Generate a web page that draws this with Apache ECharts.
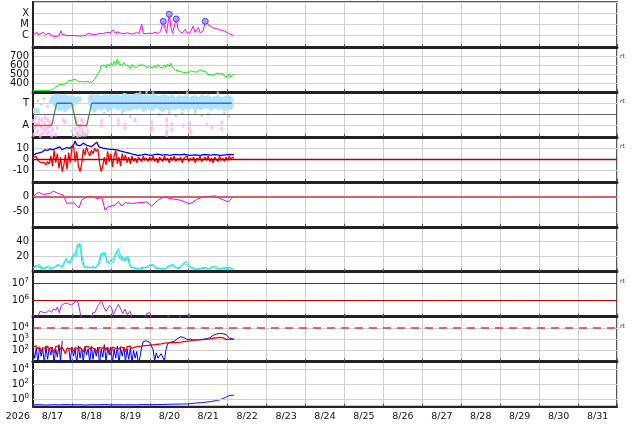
<!DOCTYPE html>
<html><head><meta charset="utf-8">
<script src="https://cdn.jsdelivr.net/npm/echarts@6/dist/echarts.min.js"></script>
<style>html,body{margin:0;padding:0;background:#fff}#c{width:634px;height:424px}</style>
</head><body><div id="c"></div><script>
// ---------- labels ----------
const yearLabel = '2026';
const dayTickLabels = ['8/17','8/18','8/19','8/20','8/21','8/22','8/23','8/24','8/25','8/26','8/27','8/28','8/29','8/30','8/31'];
const xrayClassLabels = ['C','M','X'];
const xrayClassExp = [-6,-5,-4];
const rtPanels = [1,2,3,6,7];

// ---------- data (x = hours since 8/17 00:00) ----------
const xrayFlux = [[0,1.2e-6],[1.2,1.1e-6],[2.3,2.0e-6],[3.1,1.2e-6],[4.3,1.1e-6],[6.4,2.0e-6],[7.4,1.3e-6],[8.4,1.1e-6],[9.2,1.5e-6],[10.5,1.6e-6],[11.5,9.5e-7],[12.9,9e-7],[14.6,8.2e-7],[16.0,1.0e-6],[17.3,2.8e-6],[17.9,1.4e-6],[18.7,1.2e-6],[21,1.0e-6],[22.8,1.05e-6],[25.9,1.0e-6],[29.0,9.5e-7],[32,1.0e-6],[34.1,1.65e-6],[35.1,1.3e-6],[37.2,1.2e-6],[39.5,1.4e-6],[41.3,1.65e-6],[43.2,1.5e-6],[45.4,2.0e-6],[46.2,1.6e-6],[47.5,1.8e-6],[49.5,3.2e-6],[50.6,1.7e-6],[51.6,1.4e-6],[52.4,2.2e-6],[53.6,2.8e-6],[54.6,1.6e-6],[56.1,1.5e-6],[58,1.8e-6],[59.8,1.5e-6],[61.7,1.4e-6],[63.9,2.0e-6],[65.3,1.5e-6],[67.0,1.04e-5],[68.0,1.6e-6],[69.7,1.5e-6],[71.5,1.7e-6],[73.4,1.5e-6],[75.2,2.0e-6],[77.1,1.6e-6],[78.6,2.5e-6],[80.3,1.9e-5],[81.4,4e-6],[82.4,1.8e-6],[84.0,8.1e-5],[85.1,5e-6],[86.0,1.8e-6],[87.2,2.5e-6],[88.3,3.1e-5],[89.4,4e-6],[90.6,2.3e-6],[91.9,1.7e-6],[93.7,3.7e-6],[95,1.7e-6],[96.8,1.8e-6],[98.8,7.4e-6],[99.9,2e-6],[101.9,5.5e-6],[103,1.8e-6],[104.8,2.5e-6],[106.2,1.9e-5],[107.9,1.0e-5],[109.1,7.4e-6],[111,5e-6],[112.2,3.7e-6],[113.4,4.2e-6],[115.3,3.2e-6],[116.5,2.4e-6],[117.3,3.0e-6],[118.4,2.0e-6],[120.4,1.65e-6],[122.1,1.3e-6],[123.5,1.1e-6]];
const flareTimes = [80.3, 84.0, 88.3, 106.2];
const flareFlux = [1.9e-5, 8.1e-5, 3.1e-5, 1.9e-5];

// hourly solar wind speed, from hour 0
const windSpeed = [312,315,318,314,316,313,317,315,314,318,
316,320,325,335,355,370,378,372,385,380,
390,400,425,415,430,420,440,425,418,430,
415,422,412,425,418,398,405,425,440,470,
500,530,590,575,600,570,610,585,620,590,
640,600,665,610,630,595,625,600,615,590,
560,605,580,600,570,595,575,600,585,595,
570,590,580,600,565,595,570,605,575,590,
565,600,575,610,580,620,570,550,540,555,
530,545,520,535,515,530,510,535,515,525,
505,520,510,545,560,530,510,520,495,510,
490,505,485,510,490,500,480,505,475,495,
470,500,465,490,500];

// IMF sector: +1 toward (T), -1 away (A)
const sectorTimes = [0, 11.5, 14.6, 23.9, 26.9, 33.1, 36.2, 122.5];
const sectorValues = [-1, -1, 1, 1, -1, -1, 1, 1];
// [hour, low, high] of the toward-direction dot cloud
const towardBand = [[0,0.1,0.5],[2,0.15,0.6],[4,0.1,0.45],[6,null,null],[8,null,null],[10,0.9,1.3],[12,1.0,1.7],[14,0.5,1.8],[16,0.3,1.8],[18,0.4,1.7],[20,0.2,1.8],[22,0.5,1.6],[24,0.6,1.7],[26,0.8,1.5],[28,1.1,1.6],[30,1.2,1.5],[32,null,null],[34,1.0,1.6],[36,0.4,1.8],[38,0.2,1.7],[40,0.5,1.8],[42,0.3,1.6],[44,0.6,1.8],[46,0.2,1.7],[48,0.4,1.8],[50,0.6,1.7],[52,0.3,1.8],[54,0.5,1.6],[56,0.2,1.9],[58,0.4,1.8],[60,0.3,1.7],[62,0.5,1.8],[64,0.4,1.9],[66,0.6,1.8],[68,0.2,1.7],[70,0.4,1.8],[72,0.5,1.6],[74,0.3,1.8],[76,0.6,1.7],[78,0.4,1.6],[80,0.2,1.8],[82,0.5,1.7],[84,0.3,1.6],[86,0.5,1.8],[88,0.4,1.5],[90,0.6,1.7],[92,0.3,1.6],[94,0.5,1.7],[96,0.4,1.5],[98,0.6,1.6],[100,0.3,1.7],[102,0.5,1.5],[104,0.4,1.8],[106,0.6,1.6],[108,0.5,1.7],[110,0.3,1.5],[112,0.6,1.6],[114,0.4,1.7],[116,0.5,1.5],[118,0.3,1.6],[120,0.5,1.7],[122,0.4,1.6],[123.5,0.6,1.4]];
const awayDots = [[0,-0.6],[0.5,-1.8],[1,-1.2],[1.5,-0.3],[2,-0.9],[2.5,-1.6],[3,-1.5],[3.5,-0.8],[4,-0.4],[4.5,-1.9],[5,-1.1],[5.5,-0.5],[6,-1.7],[6.5,-1.3],[7,-0.8],[7.5,-0.3],[8,-1.3],[8.5,-1.7],[9,-0.5],[9.5,-1.1],[10,-1.6],[10.5,-0.7],[11,-1.0],[11.5,-1.9],[12,-1.4],[13,-0.7],[14,-1.8],[15,-1.2],[18.7,-0.5],[19.7,-0.65],[26,-1.3],[26.5,-0.4],[27,-0.7],[27.5,-1.9],[28,-1.6],[28.5,-1.1],[29,-1.0],[29.5,-0.5],[30,-1.4],[30.5,-1.8],[31,-0.6],[32,-1.8],[33,-1.1],[34,-1.5],[42.3,-0.6],[42.3,-1.0],[52.6,-0.5],[52.6,-0.9],[56.7,-0.9],[56.7,-1.2],[62.9,-0.5],[73.2,-0.7],[73.2,-1.1],[73.2,-1.4],[82.4,-0.5],[82.4,-1.0],[82.4,-1.5],[82.4,-1.8],[85.5,-0.9],[85.5,-1.4],[92.7,-1.0],[96.8,-0.8],[96.8,-1.3],[97.5,-1.6],[107.1,-0.9],[110.2,-1.2],[116.3,-0.7],[116.3,-1.3]];
const grayDots = [[3,1.2],[5,0.9],[7,1.4],[9,0.7],[24,-1.5],[25,-1.9],[27,-1.7],[29,-1.9],[31,-1.6],[33,-1.8],[36,1.5],[38,0.3],[44,0.1],[47,-0.1],[55,0.2],[60,-0.2],[66,1.9],[70,1.95],[74,1.9],[78,0.0],[84,0.15],[88,-0.1],[92,0.1],[95,1.9],[100,0.2],[104,-0.1],[108,0.0],[114,1.9],[118,0.1],[121,-0.2]];

// IMF Bt (pairs) and Bz (hourly)
const imfBt = [[0,3.5],[1.8,5.0],[3.1,5.5],[4.3,7.0],[5.5,6.5],[7.4,8.4],[9.2,8.0],[10.5,9.3],[12.3,8.5],[14.6,10],[15.4,11.5],[16.6,11.0],[17.9,8.5],[19.1,9.5],[20.8,10.5],[22.8,9.8],[24.0,11.0],[25.3,13.5],[25.9,16.4],[26.9,12.9],[27.7,13.5],[29.0,12.0],[30.2,13.0],[31.0,14.4],[32.1,13.0],[33.1,12.5],[34.5,12.0],[36.2,11.4],[37.6,13.0],[39.3,15.3],[40.7,11.0],[41.9,10.8],[43.3,10.0],[45.0,9.5],[46.4,9.0],[48.7,8.8],[51.6,8.4],[53.6,7.5],[56.7,6.4],[58.6,5.8],[60.8,4.9],[62.9,4.2],[64.9,3.4],[67.2,4.0],[69.0,4.6],[70.9,4.0],[73.2,3.6],[75.2,4.4],[77.2,4.6],[79.5,3.8],[82.0,4.2],[84.5,3.6],[87.5,4.4],[90.6,3.9],[93.7,4.5],[96.8,3.5],[99.9,4.0],[103.0,3.6],[106.0,4.3],[109.1,3.8],[112.2,4.2],[115.3,3.6],[118.4,4.0],[121.5,4.4],[123.9,4.2]];
const imfBz = [2,1,2.5,-1,-2,-3,-4,-3,-5,-2,
-4,3,-6,8,-3,5,-8,2,-11,-5,
4,-9,6,-3,10,12,-2,7,-6,-11,
-4,9,4,11,6,3,8,5,10,7,
9,-3,-11,-6,2,-5,7,-2,5,-7,
3,8,-4,2,-6,5,-1,4,-3,2,
-4,3,-2,1,-3,2,0,-2,3,-1,
1,-2,2,-1,3,-2,1,-3,2,0,
-2,3,-1,1,-3,2,-1,3,-2,1,
-1,2,-3,1,0,3,-2,1,-1,2,
-3,1,-1,3,-2,0,2,-1,3,-2,
1,-3,2,0,-2,3,-1,1,-2,2,
-1,3,0,2,1];

// Dst index
const dstIndex = [[0,0],[3.3,15],[6.3,8],[10.5,11],[12.5,19],[15.6,11],[18.7,6],[20.8,-22],[24.8,-20],[28.4,-37],[30,-11],[33.1,0],[36.2,2],[39.3,-6],[42.5,-3],[44.4,-44],[46.4,-33],[50.6,-28],[52.6,-16],[54.7,-31],[56.7,-20],[61.8,-22],[70.1,-17],[73.2,-31],[77.2,-11],[80.3,0],[84.5,-6],[90.6,-11],[96.8,-24],[100.9,-9],[105,0],[112.2,3],[115.3,-6],[120.4,-17],[123.5,0]];

// density, two traces
const densityA = [[0,4],[1.2,6],[2.5,9],[3.7,8],[4.9,4],[6.8,5],[8.6,7],[9.9,4],[11.7,5],[13.6,6],[15.4,9],[16.6,8],[17.9,6],[19.1,10],[20.3,18],[21.6,12],[22.8,14],[24.0,16],[25.3,24],[26.5,20],[27.4,34],[28.4,38],[29.3,30],[30.2,12],[31.4,6],[33.3,5],[35.1,6],[37.0,5],[38.8,6],[40.7,10],[41.9,20],[43.2,26],[44.4,22],[45.6,14],[46.9,10],[48.1,16],[49.3,12],[50.6,18],[51.8,28],[52.7,30],[53.6,17],[54.9,20],[56.1,14],[57.3,19],[58.6,17],[59.8,6],[61.7,5],[63.5,4],[65.3,5],[67.2,4],[69.0,6],[70.9,5],[72.1,9],[74.0,8],[75.8,4],[77.7,5],[79.5,3],[81.4,4],[83.2,6],[84.5,9],[86.3,8],[88.2,5],[90.0,4],[91.9,7],[93.1,11],[94.3,12],[95.6,8],[97.4,5],[99.3,3],[101.1,4],[103.0,3],[104.8,6],[106.7,3],[108.5,4],[110.4,7],[112.2,5],[114.1,3],[115.9,5],[117.8,4],[119.6,6],[121.5,4],[123.3,3]];
const densityB = [[0,5],[1.2,8],[2.5,7],[3.7,10],[4.9,6],[6.8,4],[8.6,6],[9.9,8],[11.7,4],[13.6,7],[15.4,10],[16.6,7],[17.9,8],[19.1,12],[20.3,16],[21.6,14],[22.8,11],[24.0,20],[25.3,22],[26.5,28],[27.4,36],[28.4,33],[29.3,37],[30.2,20],[31.4,8],[33.3,7],[35.1,5],[37.0,7],[38.8,5],[40.7,14],[41.9,24],[43.2,22],[44.4,26],[45.6,12],[46.9,14],[48.1,12],[49.3,17],[50.6,22],[51.8,24],[52.7,31],[53.6,24],[54.9,16],[56.1,19],[57.3,15],[58.6,20],[59.8,9],[61.7,6],[63.5,5],[65.3,3],[67.2,6],[69.0,5],[70.9,8],[72.1,6],[74.0,10],[75.8,6],[77.7,4],[79.5,5],[81.4,3],[83.2,8],[84.5,7],[86.3,10],[88.2,6],[90.0,5],[91.9,10],[93.1,9],[94.3,14],[95.6,11],[97.4,6],[99.3,5],[101.1,3],[103.0,5],[104.8,4],[106.7,6],[108.5,3],[110.4,5],[112.2,8],[114.1,4],[115.9,3],[117.8,6],[119.6,4],[121.5,6],[123.3,4]];

// electron flux (values below 1e5 fall off the panel)
const electronFlux = [[0,4e4],[1.2,4e4],[3.3,1.2e5],[4.3,2.1e5],[6.4,1.8e5],[8.4,1.8e5],[10.1,2.4e5],[11.5,1.8e5],[12.5,2.9e5],[14.2,2.4e5],[15.0,3.8e5],[16.2,1.7e5],[17.5,4.6e5],[19.7,6.6e5],[21.8,5.8e5],[23.9,5.0e5],[25.3,6.6e5],[26.9,9.5e5],[27.9,6.6e5],[29.4,1.2e5],[30.6,4e4],[35.1,4e4],[36.8,1.7e5],[38.2,1.8e5],[39.7,4e5],[41.3,6.6e5],[42.3,9.5e5],[43.4,4.2e5],[45.0,2.1e5],[47.1,4.6e5],[48.5,3.3e5],[49.5,1.3e5],[51.2,2.9e5],[52.6,5.5e5],[54.1,2.9e5],[55.3,1.5e5],[56.7,2.9e5],[58.1,1.3e5],[59.8,2.1e5],[60.8,1.1e5],[61.8,4e4],[68.0,4e4],[70.1,1.6e5],[72.1,1.7e5],[73.8,4e4],[82.4,6e4],[83.4,1.2e5],[84.5,6e4],[89.6,6e4],[90.6,1.1e5],[91.7,6e4],[95.1,6e4],[96.2,1.5e5],[97.2,6e4],[124,6e4]];

// proton flux, hourly from hour 0
const protonRed = [200,160,250,130,200,80,180,220,140,250,
100,200,160,60,220,150,250,120,200,180,
50,160,230,140,200,90,180,240,130,200,
160,70,210,150,230,120,190,250,140,200,
60,180,220,150,240,110,200,170,40,190,
230,150,210,130,200,250,160,80,210,180,
240,150,220,190,250,230,280,240,300,260,
300,280,320,300,340,320,360,350,400,380,
420,440,500,470,520,480,540,500,560,520,
580,550,620,600,680,640,720,700,820,860,
900,880,940,900,960,920,1000,950,1100,1050,
1250,1200,1400,1300,1500,1400,1600,1350,1100,950,
880,950,1000,950,1000];
const protonBlue = [130,20,160,8,200,30,130,6,250,16,
160,40,200,8,130,25,320,10,700,null,
null,null,160,12,200,30,130,6,250,20,
160,10,200,40,130,8,250,16,160,30,
200,6,130,25,320,10,160,40,200,8,
130,20,250,6,160,30,200,10,130,16,
160,8,100,20,80,5,30,200,630,520,
700,560,500,450,120,12,60,20,25,50,
60,12,120,400,500,530,560,650,900,1100,
1400,1600,1500,1400,1200,900,950,1000,850,750,
800,900,1000,850,800,1000,1250,1100,950,1300,
1700,2200,2500,2800,3000,3200,3300,3100,2900,2500,
1800,1300,1100,1050,1000];

// bottom panel flux
const lowFlux = [[0,0.17],[4,0.18],[8,0.16],[12,0.18],[16,0.17],[20,0.19],[24,0.17],[28,0.18],[32,0.16],[36,0.18],[40,0.17],[44,0.19],[48,0.17],[52,0.18],[56,0.17],[60,0.18],[64,0.17],[68,0.19],[72,0.18],[76,0.18],[80,0.19],[84,0.2],[88,0.21],[92,0.22],[95,0.22],[98,0.26],[101,0.3],[104,0.33],[107,0.39],[110,0.48],[113,0.62],[115.3,0.81],[117,1.2],[118.5,1.6],[119.4,2.0],[120.5,2.6],[121.5,3.2],[123,3.3],[124,3.2]];

// ---------- build chart ----------
const FONT = 'DejaVu Sans';
const GRID_COLOR = '#d0d0d0';
const NPANEL = 9, TOP0 = 2, PANEL_H = 44.95;
const hourly = arr => arr.map((v, i) => [i, v == null ? '-' : v]);

const grids = [], xAxes = [], yAxes = [], series = [];
for (let i = 0; i < NPANEL; i++) {
  const last = i === NPANEL - 1;
  grids.push({left: 33, right: 17, top: TOP0 + PANEL_H * i, height: PANEL_H, show: true,
    borderColor: '#222', borderWidth: 1.5, containLabel: false, outerBoundsMode: 'none'});
  const xa = {gridIndex: i, type: 'value', min: 0, max: 360, interval: 24,
    axisLine: {show: true, onZero: false, lineStyle: {color: '#222', width: last ? 2 : 3}},
    axisTick: {show: true, inside: true, length: 3, lineStyle: {color: '#555', width: 1}},
    splitLine: {show: true, lineStyle: {color: GRID_COLOR, width: 1}},
    axisLabel: {show: false}};
  if (last) {
    xa.axisLabel = {show: true, fontFamily: FONT, fontSize: 9.5, color: '#111', margin: 5,
      align: 'center', padding: [0, 0, 0, 39],
      formatter: v => { const k = Math.round(v / 24); return k < dayTickLabels.length ? dayTickLabels[k] : ''; }};
    xa.name = yearLabel; xa.nameLocation = 'start'; xa.nameGap = 3;
    xa.nameTextStyle = {fontFamily: FONT, fontSize: 9.5, color: '#111', align: 'right', verticalAlign: 'top', padding: [5, 0, 0, 0]};
  }
  xAxes.push(xa);
}

const richSup = {b: {fontFamily: FONT, fontSize: 10, color: '#111'}, e: {fontFamily: FONT, fontSize: 7, color: '#111', padding: [0, 0, 6, 0]}};
function expOf(v) { const e = Math.log10(v); return Math.abs(e - Math.round(e)) < 1e-6 ? Math.round(e) : null; }
function powFmt(shown) { return v => { const e = expOf(v); return (e !== null && shown.includes(e)) ? '{b|10}{e|' + e + '}' : ''; }; }
function yAxis(i, o) {
  return Object.assign({gridIndex: i,
    axisLine: {show: true, onZero: false, lineStyle: {color: '#222', width: 2}},
    axisTick: {show: false},
    splitLine: {show: o.split !== false, lineStyle: {color: GRID_COLOR, width: 1}},
    axisLabel: Object.assign({fontFamily: FONT, fontSize: 10, color: '#111', margin: 4}, o.label || {})},
    o.axis);
}
yAxes.push(yAxis(0, {axis: {type: 'log', min: 1e-7, max: 1e-3, logBase: 10, splitNumber: 4},
  label: {formatter: v => { const e = expOf(v); const k = xrayClassExp.indexOf(e); return k >= 0 ? xrayClassLabels[k] : ''; }}}));
yAxes.push(yAxis(1, {axis: {type: 'value', min: 300, max: 800, interval: 100},
  label: {formatter: v => (v > 300 && v < 800) ? String(v) : ''}}));
yAxes.push(yAxis(2, {axis: {type: 'value', min: -2, max: 2, interval: 1},
  label: {formatter: v => v === 1 ? 'T' : (v === -1 ? 'A' : '')}}));
yAxes.push(yAxis(3, {axis: {type: 'value', min: -20, max: 20, interval: 10},
  label: {formatter: v => (v > -20 && v < 20) ? String(v) : ''}}));
yAxes.push(yAxis(4, {axis: {type: 'value', min: -100, max: 50, interval: 50},
  label: {formatter: v => (v === 0 || v === -50) ? String(v) : ''}}));
yAxes.push(yAxis(5, {axis: {type: 'value', min: 0, max: 60, interval: 20},
  label: {formatter: v => (v === 20 || v === 40) ? String(v) : ''}}));
yAxes.push(yAxis(6, {split: false, axis: {type: 'log', min: 1e5, max: 5e7, logBase: 10},
  label: {formatter: powFmt([6, 7]), rich: richSup}}));
yAxes.push(yAxis(7, {axis: {type: 'log', min: 1e1, max: 1e5, logBase: 10, splitNumber: 4},
  label: {formatter: powFmt([2, 3, 4]), rich: richSup}}));
yAxes.push(yAxis(8, {split: false, axis: {type: 'log', min: 1e-1, max: 1e5, logBase: 10, splitNumber: 6},
  label: {formatter: powFmt([0, 2, 4]), rich: richSup}}));

function line(i, data, color, width, extra) {
  return Object.assign({type: 'line', xAxisIndex: i, yAxisIndex: i, data, symbol: 'none', showSymbol: false,
    lineStyle: {color, width}, itemStyle: {color}, animation: false, connectNulls: false, clip: true, z: 3}, extra || {});
}
function hLines(values, color, width, type) {
  return {silent: true, symbol: 'none', animation: false, label: {show: false},
    lineStyle: {color, width, type: type || 'solid'}, data: values.map(v => ({yAxis: v}))};
}

// panel 1: X-ray
series.push(line(0, xrayFlux, '#ff00ff', 1));
series.push({type: 'scatter', xAxisIndex: 0, yAxisIndex: 0, data: flareTimes.map((t, k) => [t, flareFlux[k]]),
  symbol: 'circle', symbolSize: 6, itemStyle: {color: '#9a9aff', borderColor: '#2020ff', borderWidth: 1}, animation: false, z: 5});
// panel 2: speed
series.push(line(1, hourly(windSpeed), '#00f000', 1));
// panel 3: sector
series.push({type: 'custom', xAxisIndex: 2, yAxisIndex: 2, animation: false, clip: true, z: 1, silent: true,
  data: towardBand.map(r => [r[0], r[1] == null ? NaN : r[1], r[2] == null ? NaN : r[2]]),
  encode: {x: 0, y: [1, 2]},
  renderItem: (params, api) => {
    const k = params.dataIndex, a = towardBand[k], b = towardBand[k + 1];
    if (!b || a[1] == null || b[1] == null) return null;
    const pts = [api.coord([a[0], a[1]]), api.coord([b[0], b[1]]), api.coord([b[0], b[2]]), api.coord([a[0], a[2]])];
    return {type: 'polygon', shape: {points: pts}, style: {fill: '#aee4fb', stroke: '#aee4fb', lineWidth: 0.6}};
  }});
series.push({type: 'scatter', xAxisIndex: 2, yAxisIndex: 2, data: grayDots, symbol: 'rect', symbolSize: [2.5, 3],
  itemStyle: {color: '#c8c8c8'}, animation: false, z: 2});
series.push({type: 'scatter', xAxisIndex: 2, yAxisIndex: 2, data: awayDots, symbol: 'rect', symbolSize: [2.5, 4],
  itemStyle: {color: '#ffb2f2'}, animation: false, z: 2});
const sectorRed = sectorTimes.map((t, k) => [t, sectorValues[k] < 0 ? sectorValues[k] : '-']);
const sectorBlue = sectorTimes.map((t, k) => [t, sectorValues[k] > 0 ? sectorValues[k] : '-']);
const sectorGreen = [];
for (let k = 0; k < sectorTimes.length - 1; k++) {
  if (sectorValues[k] !== sectorValues[k + 1]) {
    sectorGreen.push([sectorTimes[k], sectorValues[k]], [sectorTimes[k + 1], sectorValues[k + 1]], [sectorTimes[k + 1], '-']);
  }
}
series.push(line(2, sectorGreen, '#4f8a4f', 1.3, {z: 4, markLine: hLines([0], '#666', 1)}));
series.push(line(2, sectorRed, '#ff4040', 1.5, {z: 4}));
series.push(line(2, sectorBlue, '#4a5cff', 1.5, {z: 4}));
// panel 4: IMF
series.push(line(3, imfBt, '#0000ff', 1.3, {markLine: hLines([0], '#b00000', 1.3)}));
series.push(line(3, hourly(imfBz), '#ff0000', 1.3, {z: 4}));
// panel 5: Dst
series.push(line(4, dstIndex, '#f000f0', 1, {markLine: hLines([0], 'rgba(200,80,80,0.85)', 2)}));
// panel 6: density
series.push(line(5, densityA, '#10eaea', 1));
series.push(line(5, densityB, '#10eaea', 1));
// panel 7: electrons
series.push(line(6, electronFlux, '#a030d8', 1, {markLine: hLines([1e6, 1e7], '#c00000', 1)}));
// panel 8: protons
series.push(line(7, hourly(protonBlue), '#0000ff', 1, {markLine: hLines([1e4], '#e03838', 1.5, [8, 6])}));
series.push(line(7, hourly(protonRed), '#ff0000', 1.3, {z: 4}));
// panel 9
series.push(line(8, lowFlux, '#1010ff', 1, {markLine: hLines([1, 100, 1e4], GRID_COLOR, 1)}));

const graphics = rtPanels.map(p => ({type: 'text', left: 620, top: TOP0 + PANEL_H * p + 6.5,
  style: {text: 'rt', fontFamily: FONT, fontSize: 6, fill: '#333'}, silent: true}));

const chart = echarts.init(document.getElementById('c'), null, {renderer: 'canvas'});
chart.setOption({animation: false, backgroundColor: '#fff', grid: grids, xAxis: xAxes, yAxis: yAxes, series, graphic: graphics});
</script></body></html>
